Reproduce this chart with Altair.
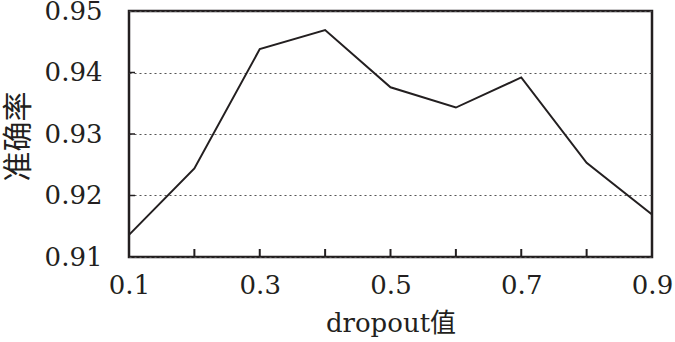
import altair as alt
import pandas as pd

dropout = [0.1, 0.2, 0.3, 0.4, 0.5, 0.6, 0.7, 0.8, 0.9]
accuracy = [0.9136, 0.9244, 0.9438, 0.9469, 0.9376, 0.9343, 0.9392, 0.9253, 0.9169]
x_labels = [0.1, 0.3, 0.5, 0.7, 0.9]
y_labels = [0.91, 0.92, 0.93, 0.94, 0.95]
x_minor = [0.2, 0.3, 0.4, 0.5, 0.6, 0.7, 0.8]
y_minor = [0.92, 0.93, 0.94]

W, H = 523, 246
FONT = "DejaVu Serif, Liberation Serif, Noto Sans CJK SC"
INK = "#231f20"

df = pd.DataFrame({"x": dropout, "y": accuracy})
xscale = alt.Scale(domain=[0.1, 0.9], nice=False, zero=False)
yscale = alt.Scale(domain=[0.91, 0.95], nice=False, zero=False)

line = alt.Chart(df).mark_line(color=INK, strokeWidth=2).encode(
    x=alt.X("x:Q", scale=xscale, axis=alt.Axis(
        values=x_labels, format=".1f", ticks=False, domain=False, grid=False,
        labelFlush=False, labelOverlap=False,
        labelFont=FONT, labelFontSize=26, labelColor=INK, labelPadding=15,
        title="dropout值", titleFont=FONT, titleFontSize=26, titleFontWeight="normal",
        titleColor=INK, titleBaseline="middle", titleY=66)),
    y=alt.Y("y:Q", scale=yscale, axis=alt.Axis(
        values=y_labels, format=".2f", ticks=False, domain=False,
        labelFlush=False, labelOverlap=False,
        grid=True, gridDash=[2, 3], gridColor="#555555", gridWidth=1,
        labelFont=FONT, labelFontSize=26, labelColor=INK, labelPadding=27,
        title="准确率", titleFont=FONT, titleFontSize=30, titleFontWeight="normal",
        titleColor=INK, titleAngle=270, titleAlign="center", titleBaseline="middle",
        titleX=-111, titleY=H / 2 + 2)),
)

xt = alt.Chart(pd.DataFrame({"x": x_minor})).mark_rule(color=INK, strokeWidth=2).encode(
    x=alt.X("x:Q", scale=xscale), y=alt.value(H), y2=alt.value(H - 8))
yt = alt.Chart(pd.DataFrame({"y": y_minor})).mark_rule(color=INK, strokeWidth=1.5).encode(
    y=alt.Y("y:Q", scale=yscale), x=alt.value(0), x2=alt.value(6))

chart = alt.layer(line, xt, yt).properties(
    width=W, height=H,
    autosize=alt.AutoSizeParams(type="none"),
    padding={"left": 129, "top": 11, "right": 23, "bottom": 85},
    background="white",
).configure_view(stroke=INK, strokeWidth=2.5)

chart.save("out.html", embed_options={"renderer": "svg", "actions": False})
